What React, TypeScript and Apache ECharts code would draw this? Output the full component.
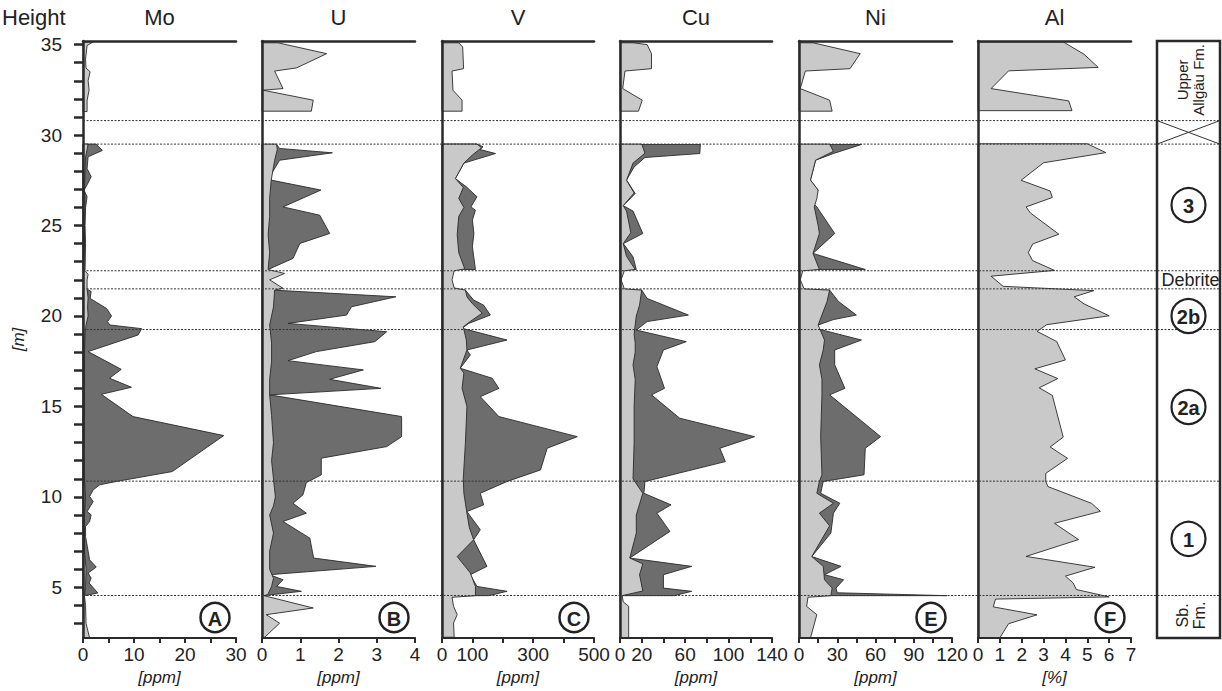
import React, { useEffect, useRef } from 'react';
import * as echarts from 'echarts';

const FONT = '"Liberation Sans", Arial, Helvetica, sans-serif';

// ---- axes / layout data ----
const elements = ['Mo', 'U', 'V', 'Cu', 'Ni', 'Al'];
const xMaxes = [30, 4, 500, 140, 120, 7];
const xUnits = ['[ppm]', '[ppm]', '[ppm]', '[ppm]', '[ppm]', '[%]'];
const moTicks = [0, 5, 10, 15, 20, 25, 30];
const moLabels = [0, 10, 20, 30];
const uTicks = [0, 1, 2, 3, 4];
const uLabels = [0, 1, 2, 3, 4];
const vTicks = [0, 100, 200, 300, 400, 500];
const vLabels = [0, 100, 300, 500];
const cuTicks = [0, 20, 40, 60, 80, 100, 120, 140];
const cuLabels = [0, 20, 60, 100, 140];
const niTicks = [0, 15, 30, 45, 60, 75, 90, 105, 120];
const niLabels = [0, 30, 60, 90, 120];
const alTicks = [0, 1, 2, 3, 4, 5, 6, 7];
const alLabels = [0, 1, 2, 3, 4, 5, 6, 7];
const heightTicks = [3, 4, 5, 6, 7, 8, 9, 10, 11, 12, 13, 14, 15, 16, 17, 18, 19, 20, 21, 22, 23, 24, 25, 26, 27, 28, 29, 30, 31, 32, 33, 34, 35];
const heightLabels = [5, 10, 15, 20, 25, 30, 35];
const yMin = 2.2;
const yMax = 35.2;
const boundaries = [30.8, 29.5, 22.5, 21.5, 19.25, 10.87, 4.55];
const panelLetters = ['A', 'B', 'C', '', 'E', 'F'];
const unitLabels = ['3', '2b', '2a', '1'];
const unitHeights = [26.13, 20.0, 14.97, 7.68];

// ---- data: [height (m), value] ----
// Mo
const moUpper = [[35.15, 2.0], [34.95, 0.8], [34.2, 0.5], [33.7, 0.6], [33.5, 1.4], [33.0, 1.0], [32.5, 1.2], [31.9, 0.8], [31.3, 0.8]];
const moLight = [[29.5, 1.0], [29.2, 0.8], [28.8, 0.5], [28.0, 0.4], [27.0, 0.3], [26.0, 0.4], [25.0, 0.3], [24.0, 0.3], [23.0, 0.4], [22.5, 0.4], [22.3, 1.0], [22.0, 0.8], [21.5, 0.8], [21.0, 1.0], [20.5, 0.9], [20.0, 1.0], [19.5, 0.6], [19.0, 0.4], [18.0, 0.3], [16.0, 0.3], [14.0, 0.3], [12.0, 0.2], [11.0, 0.3], [10.0, 0.5], [9.0, 0.3], [8.0, 0.3], [7.0, 0.3], [6.0, 0.6], [5.0, 0.5], [4.5, 0.3], [4.0, 0.5], [3.0, 0.6], [2.2, 1.3]];
const moDark3 = [[29.5, 2.6], [29.15, 3.8], [28.8, 1.0], [28.15, 0.8], [27.7, 1.6], [27.25, 0.8], [26.95, 0.2], [26.6, 0.8], [26.0, 0.5], [25.0, 0.4], [24.0, 0.5], [23.0, 0.4], [22.5, 0.3]];
const moDark2 = [[21.45, 1.0], [21.35, 1.6], [20.97, 1.4], [20.42, 4.6], [20.0, 5.6], [19.68, 4.8], [19.5, 5.3], [19.3, 11.5], [18.95, 10.8], [18.03, 1.0], [17.05, 7.5], [16.56, 5.2], [16.06, 9.5], [15.67, 3.6], [14.44, 9.8], [13.39, 27.6], [11.4, 17.5], [10.85, 6.5], [10.67, 3.3], [10.39, 2.0], [10.02, 1.3], [9.74, 2.0], [9.19, 0.8], [9.01, 1.6], [8.64, 1.3], [8.36, 0.5], [7.81, 0.5], [6.52, 1.3], [6.12, 2.6], [5.79, 1.0], [5.51, 1.6], [5.24, 1.2], [4.69, 2.9], [4.54, 0.3]];
// U
const uUpper = [[35.1, 0.42], [34.5, 1.69], [33.71, 0.9], [33.54, 0.33], [32.57, 0.55], [32.48, 0.03], [31.93, 1.34], [31.32, 1.29]];
const uLight = [[29.5, 0.38], [29.2, 0.4], [28.6, 0.33], [27.5, 0.24], [26.5, 0.2], [25.5, 0.2], [24.5, 0.16], [23.5, 0.2], [22.57, 0.16], [22.35, 0.59], [22.0, 0.2], [21.53, 0.55], [21.43, 0.33], [20.5, 0.3], [19.5, 0.2], [18.5, 0.25], [17.5, 0.25], [16.5, 0.2], [15.64, 0.2], [14.5, 0.25], [13.0, 0.3], [12.0, 0.25], [11.0, 0.3], [10.0, 0.35], [9.5, 0.3], [9.0, 0.2], [8.0, 0.3], [7.0, 0.2], [6.0, 0.2], [5.5, 0.3], [5.05, 0.25], [4.6, 0.15], [4.54, 0.05], [3.86, 1.34], [3.49, 0.11], [3.02, 0.46], [2.24, 0.07]];
const uDark3 = [[29.48, 0.38], [29.26, 0.46], [29.02, 1.84], [28.61, 0.46], [27.69, 0.2], [27.51, 0.24], [26.96, 1.54], [26.03, 0.55], [25.57, 1.51], [24.56, 1.77], [24.01, 0.99], [23.18, 0.81], [22.57, 0.16]];
const uDark2 = [[21.43, 0.29], [21.06, 3.5], [20.51, 2.34], [20.05, 2.21], [19.59, 0.68], [19.13, 3.26], [18.58, 2.95], [18.03, 1.42], [17.53, 0.68], [17.02, 2.65], [16.5, 1.77], [16.0, 3.11], [15.64, 0.2], [14.44, 3.65], [13.33, 3.65], [12.78, 3.26], [12.14, 1.55], [11.22, 1.55], [10.79, 1.16], [10.11, 1.07], [9.65, 0.81], [9.1, 1.16], [8.64, 0.55], [7.72, 1.25], [6.62, 1.35], [6.16, 2.98], [5.7, 0.2], [5.42, 0.55], [5.05, 0.38], [4.78, 1.03], [4.54, 0.03]];
// V
const vUpper = [[35.1, 55], [34.87, 68], [33.67, 71], [33.54, 33], [32.48, 36], [31.93, 66], [31.32, 66]];
const vLight = [[29.5, 115], [29.3, 130], [28.9, 100], [28.45, 72], [27.6, 44], [27.1, 70], [26.5, 55], [26.0, 72], [25.5, 55], [24.5, 50], [23.5, 55], [22.6, 75], [22.5, 40], [22.0, 33], [21.55, 40], [21.43, 77], [21.06, 82], [20.7, 99], [20.15, 132], [19.7, 93], [19.4, 70], [18.67, 80], [18.12, 82], [17.11, 60], [16.85, 72], [16.0, 66], [15.0, 82], [13.0, 77], [11.0, 70], [10.2, 72], [9.1, 82], [8.3, 90], [7.63, 104], [6.7, 50], [5.8, 93], [5.05, 110], [4.54, 110], [4.45, 33], [3.95, 38], [3.49, 50], [3.03, 38], [2.24, 40]];
const vDark3 = [[29.5, 115], [29.35, 135], [29.2, 125], [28.98, 176], [28.45, 72], [27.6, 44], [27.14, 80], [26.59, 115], [26.03, 95], [25.85, 110], [25.3, 100], [24.56, 105], [23.82, 100], [22.57, 110]];
const vDark2 = [[21.43, 77], [20.88, 104], [20.6, 137], [20.05, 159], [19.59, 88], [19.32, 66], [18.67, 214], [18.12, 82], [17.84, 93], [17.11, 60], [16.56, 165], [16.0, 187], [15.54, 126], [14.44, 187], [13.33, 445], [12.69, 346], [11.49, 324], [10.85, 214], [10.2, 126], [9.56, 137], [9.19, 82], [8.18, 126], [7.63, 104], [6.16, 148], [5.7, 93], [5.05, 115], [4.78, 214], [4.54, 154]];
// Cu
const cuUpper = [[35.1, 12], [35.0, 25], [34.5, 29], [33.67, 29], [33.54, 4.6], [32.57, 2.5], [31.93, 20.5], [31.32, 17]];
const cuLight = [[29.5, 20], [29.0, 23], [28.45, 12], [27.5, 6], [26.8, 13], [26.1, 3], [25.8, 6], [24.6, 10], [24.0, 3], [23.3, 6], [22.57, 14], [22.5, 4], [22.0, 1], [21.5, 4], [21.43, 20], [20.6, 18], [20.0, 15], [19.5, 14], [19.0, 13], [18.5, 14], [18.0, 14], [17.3, 12], [16.5, 14], [15.0, 13], [13.0, 13], [11.0, 12], [10.2, 21], [9.0, 15], [8.0, 15], [6.62, 9], [6.3, 21], [5.7, 18], [4.8, 21], [4.54, 2], [4.2, 3], [3.95, 8], [2.2, 8]];
const cuDark3 = [[29.48, 74], [28.98, 73.5], [28.76, 23], [28.24, 13], [27.51, 6], [26.77, 14], [26.1, 3], [25.8, 12], [24.56, 21], [24.0, 3], [23.27, 12], [22.57, 15]];
const cuDark2 = [[21.43, 20], [20.97, 25], [20.05, 63], [19.69, 25], [19.22, 15], [18.58, 61], [18.12, 40], [17.2, 34], [16.0, 41], [15.64, 29], [14.35, 55], [13.33, 124], [12.69, 92], [11.95, 97], [10.85, 23], [10.2, 22], [9.56, 47], [9.1, 34], [8.09, 46], [6.62, 9], [6.16, 66], [5.7, 40], [4.96, 40], [4.78, 66], [4.54, 50]];
// Ni
const niUpper = [[35.1, 11], [34.5, 48], [33.67, 40], [33.54, 5], [32.57, 1], [31.93, 24], [31.32, 26]];
const niLight = [[29.5, 24], [29.1, 27], [28.61, 13], [27.51, 9], [26.96, 15], [26.5, 14], [26.03, 12], [25.0, 15], [24.56, 16], [23.46, 11], [22.57, 16], [22.5, 3], [22.0, 1], [21.5, 4], [21.43, 24], [20.8, 22], [19.5, 15], [18.67, 20], [18.12, 19], [17.3, 16], [16.5, 18], [15.64, 18], [13.33, 17], [11.22, 18], [10.85, 16], [10.2, 14], [9.65, 27], [9.1, 16], [8.4, 24], [6.7, 10], [6.16, 19], [5.42, 20], [4.96, 26], [4.54, 25], [4.45, 7], [3.95, 6], [3.49, 14], [2.2, 9]];
const niDark3 = [[29.48, 49], [28.98, 27], [28.61, 13], [27.51, 9], [26.96, 15], [26.3, 10], [26.03, 14], [24.56, 28], [23.46, 11], [22.57, 52]];
const niDark2 = [[21.43, 24], [20.8, 31], [20.05, 45], [19.8, 27], [19.5, 15], [19.3, 14], [18.67, 49], [18.12, 28], [17.3, 28], [16.0, 36], [15.64, 24], [13.33, 64], [12.69, 52], [11.22, 51], [10.85, 19], [10.2, 17], [9.65, 32], [9.1, 27], [8.0, 25], [6.7, 10], [6.16, 33], [5.7, 20], [5.42, 35], [4.96, 29], [4.7, 30], [4.54, 116]];
// Al
const alUpper = [[35.15, 3.9], [34.47, 4.85], [33.74, 5.5], [33.55, 1.4], [32.57, 0.6], [31.89, 4.15], [31.35, 4.3]];
const alLower = [[29.52, 5.0], [29.03, 5.85], [28.47, 3.0], [27.5, 1.97], [26.91, 3.3], [26.55, 3.4], [26.03, 2.2], [25.69, 2.4], [24.52, 3.7], [23.98, 2.5], [23.5, 2.3], [23.06, 2.5], [22.52, 3.5], [22.2, 0.6], [21.64, 1.15], [21.4, 5.3], [21.06, 4.4], [20.67, 4.85], [20.01, 6.0], [19.52, 3.15], [19.15, 2.7], [18.59, 3.6], [17.57, 4.0], [17.08, 2.6], [16.54, 3.65], [16.03, 2.8], [15.61, 3.4], [13.3, 3.9], [12.76, 3.3], [12.13, 4.1], [11.3, 3.1], [10.86, 3.1], [10.57, 3.2], [9.64, 5.2], [9.2, 5.6], [8.54, 3.5], [7.64, 4.6], [6.71, 2.2], [6.11, 5.35], [5.62, 4.0], [5.25, 4.35], [4.88, 4.5], [4.47, 6.0], [4.35, 0.8], [3.92, 0.7], [3.48, 2.7], [2.99, 1.4], [2.21, 1.0]];

const tickSets = [moTicks, uTicks, vTicks, cuTicks, niTicks, alTicks];
const labelSets = [moLabels, uLabels, vLabels, cuLabels, niLabels, alLabels];
const lightSets = [
  [moUpper, moLight],
  [uUpper, uLight],
  [vUpper, vLight],
  [cuUpper, cuLight],
  [niUpper, niLight],
  [alUpper, alLower],
];
const darkSets = [
  [moDark3, moDark2],
  [uDark3, uDark2],
  [vDark3, vDark2],
  [cuDark3, cuDark2],
  [niDark3, niDark2],
  [],
];

// ---- layout ----
const panelLeft = [83, 262, 442, 620, 799, 978];
const panelWidth = [153, 153, 152, 152, 153, 153];
const GRID_TOP = 41;
const GRID_H = 597;
const INK = '#2a2a2a';
const LIGHT = '#c9c9c9';
const DARK = '#6d6d6d';

function polySeries(i: number, segments: number[][][], color: string, z: number) {
  return {
    type: 'custom',
    coordinateSystem: 'cartesian2d',
    xAxisIndex: i * 2,
    yAxisIndex: i,
    silent: true,
    z,
    data: segments.map((s) => [0, s[0][0]]),
    renderItem: (params: any, api: any) => {
      const seg = segments[params.dataIndex];
      const pts = [api.coord([0, seg[0][0]])]
        .concat(seg.map((p) => api.coord([p[1], p[0]])))
        .concat([api.coord([0, seg[seg.length - 1][0]])]);
      return {
        type: 'polygon',
        shape: { points: pts },
        style: { fill: color, stroke: INK, lineWidth: 0.9 },
      };
    },
  };
}

export default function App() {
  const ref = useRef<HTMLDivElement>(null);
  useEffect(() => {
    if (!ref.current) return;
    const chart = echarts.init(ref.current, null, { renderer: 'svg' });

    const grids: any[] = [];
    const xAxes: any[] = [];
    const yAxes: any[] = [];
    const series: any[] = [];

    elements.forEach((el, i) => {
      grids.push({ left: panelLeft[i], top: GRID_TOP, width: panelWidth[i], height: GRID_H });
      xAxes.push({
        type: 'value', gridIndex: i, position: 'bottom', min: 0, max: xMaxes[i], z: 5,
        name: xUnits[i], nameLocation: 'middle', nameGap: 31,
        nameTextStyle: { fontFamily: FONT, fontSize: 17, fontStyle: 'italic', color: '#222' },
        axisLine: { show: true, lineStyle: { color: INK, width: 2.2 } },
        axisTick: { show: true, length: 5, customValues: tickSets[i], lineStyle: { color: INK, width: 2 } },
        axisLabel: { customValues: labelSets[i], fontFamily: FONT, fontSize: 19, color: '#222', margin: 7 },
        splitLine: { show: false },
      });
      xAxes.push({
        type: 'value', gridIndex: i, position: 'top', min: 0, max: xMaxes[i], z: 5,
        name: el, nameLocation: 'middle', nameGap: 13,
        nameTextStyle: { fontFamily: FONT, fontSize: 22, color: '#222' },
        axisLine: { show: true, lineStyle: { color: INK, width: 2.5 } },
        axisTick: { show: false }, axisLabel: { show: false }, splitLine: { show: false },
      });
      yAxes.push({
        type: 'value', gridIndex: i, min: yMin, max: yMax, z: 5,
        axisLine: { show: true, lineStyle: { color: INK, width: 2.5 } },
        axisTick: { show: false }, axisLabel: { show: false }, splitLine: { show: false },
      });
      darkSets[i].length && series.push(polySeries(i, darkSets[i] as number[][][], DARK, 2));
      series.push(polySeries(i, lightSets[i] as number[][][], LIGHT, 3));
    });

    // Height labelled axis (offset from panel axis)
    yAxes.push({
      type: 'value', gridIndex: 0, min: yMin, max: yMax, offset: 6, position: 'left',
      name: '[m]', nameLocation: 'middle', nameGap: 50, nameRotate: 90,
      nameTextStyle: { fontFamily: FONT, fontSize: 17, fontStyle: 'italic', color: '#222' },
      axisLine: { show: false },
      axisTick: { show: true, length: 9, customValues: heightTicks, lineStyle: { color: INK, width: 2.5 } },
      axisLabel: { customValues: heightLabels, fontFamily: FONT, fontSize: 19, color: '#222', margin: 15 },
      splitLine: { show: false },
    });

    // Stratigraphic column grid (index 6)
    grids.push({ left: 1157, top: GRID_TOP, width: 63, height: GRID_H, show: true, borderColor: INK, borderWidth: 2.5 });
    xAxes.push({ type: 'value', gridIndex: 6, min: 0, max: 1, show: false });
    yAxes.push({ type: 'value', gridIndex: 6, min: yMin, max: yMax, show: false });
    // Overlay grid (index 7) for boundary lines
    grids.push({ left: 83, top: GRID_TOP, width: 1137, height: GRID_H });
    xAxes.push({ type: 'value', gridIndex: 7, min: 0, max: 1, show: false });
    yAxes.push({ type: 'value', gridIndex: 7, min: yMin, max: yMax, show: false });

    const stratX = 12;
    const stratY = 7;
    const overX = 13;
    const overY = 8;

    series.push({
      type: 'custom', coordinateSystem: 'cartesian2d', xAxisIndex: overX, yAxisIndex: overY, silent: true, z: 10,
      data: boundaries.map((b) => [0, b]),
      renderItem: (params: any, api: any) => {
        const h = boundaries[params.dataIndex];
        const a = api.coord([0, h]);
        const b = api.coord([1, h]);
        return {
          type: 'line',
          shape: { x1: a[0], y1: a[1], x2: b[0], y2: b[1] },
          style: { stroke: '#333', lineWidth: 1, lineDash: [2, 1.5] },
        };
      },
    });

    // X cross for gap
    series.push({
      type: 'custom', coordinateSystem: 'cartesian2d', xAxisIndex: stratX, yAxisIndex: stratY, silent: true, z: 10,
      data: [[0, 30.8]],
      renderItem: (params: any, api: any) => {
        const tl = api.coord([0, 30.8]);
        const br = api.coord([1, 29.5]);
        return {
          type: 'group',
          children: [
            { type: 'line', shape: { x1: tl[0], y1: tl[1], x2: br[0], y2: br[1] }, style: { stroke: '#333', lineWidth: 1 } },
            { type: 'line', shape: { x1: tl[0], y1: br[1], x2: br[0], y2: tl[1] }, style: { stroke: '#333', lineWidth: 1 } },
          ],
        };
      },
    });

    // unit circles
    series.push({
      type: 'custom', coordinateSystem: 'cartesian2d', xAxisIndex: stratX, yAxisIndex: stratY, silent: true, z: 10,
      data: unitHeights.map((h) => [0.5, h]),
      renderItem: (params: any, api: any) => {
        const c = api.coord([0.5, unitHeights[params.dataIndex]]);
        return {
          type: 'group',
          children: [
            { type: 'circle', shape: { cx: c[0], cy: c[1], r: 17 }, style: { fill: '#fff', stroke: '#222', lineWidth: 2.2 } },
            {
              type: 'text', x: c[0], y: c[1] + 1,
              style: {
                text: unitLabels[params.dataIndex], fill: '#222', font: `bold 20px ${FONT}`,
                textAlign: 'center', textVerticalAlign: 'middle', align: 'center', verticalAlign: 'middle',
              },
            },
          ],
        };
      },
    });

    // formation labels
    const formLabels = [
      { text: 'Upper\nAllgäu Fm.', h: 33.05, rot: Math.PI / 2, size: 15 },
      { text: 'Debrite', h: 21.99, rot: 0, size: 18 },
      { text: 'Sb.\nFm.', h: 3.45, rot: Math.PI / 2, size: 16 },
    ];
    series.push({
      type: 'custom', coordinateSystem: 'cartesian2d', xAxisIndex: stratX, yAxisIndex: stratY, silent: true, z: 10,
      data: formLabels.map((f) => [0.5, f.h]),
      renderItem: (params: any, api: any) => {
        const f = formLabels[params.dataIndex];
        const c = api.coord([0.5, f.h]);
        return {
          type: 'text', x: c[0] + 2, y: c[1], rotation: f.rot,
          style: {
            text: f.text, fill: '#222', font: `${f.size}px ${FONT}`, lineHeight: f.size + 1,
            textAlign: 'center', textVerticalAlign: 'middle', align: 'center', verticalAlign: 'middle',
          },
        };
      },
    });

    const graphic: any[] = [
      {
        type: 'text', left: 2, top: 6,
        style: { text: 'Height', font: `22px ${FONT}`, fill: '#222' },
      },
    ];
    panelLetters.forEach((L, i) => {
      if (!L) return;
      const cx = panelLeft[i] + 132;
      const cy = 617.5;
      graphic.push({ type: 'circle', shape: { cx, cy, r: 14.5 }, style: { fill: '#fff', stroke: '#222', lineWidth: 2.5 }, z: 20 });
      graphic.push({
        type: 'text', x: cx, y: cy + 1, z: 21,
        style: {
          text: L, font: `bold 20px ${FONT}`, fill: '#222',
          textAlign: 'center', textVerticalAlign: 'middle', align: 'center', verticalAlign: 'middle',
        },
      });
    });

    chart.setOption({
      animation: false,
      backgroundColor: '#ffffff',
      grid: grids,
      xAxis: xAxes,
      yAxis: yAxes,
      series,
      graphic,
    });
    return () => chart.dispose();
  }, []);

  return <div ref={ref} style={{ position: 'fixed', left: 0, top: 0, width: 1222, height: 691 }} />;
}
